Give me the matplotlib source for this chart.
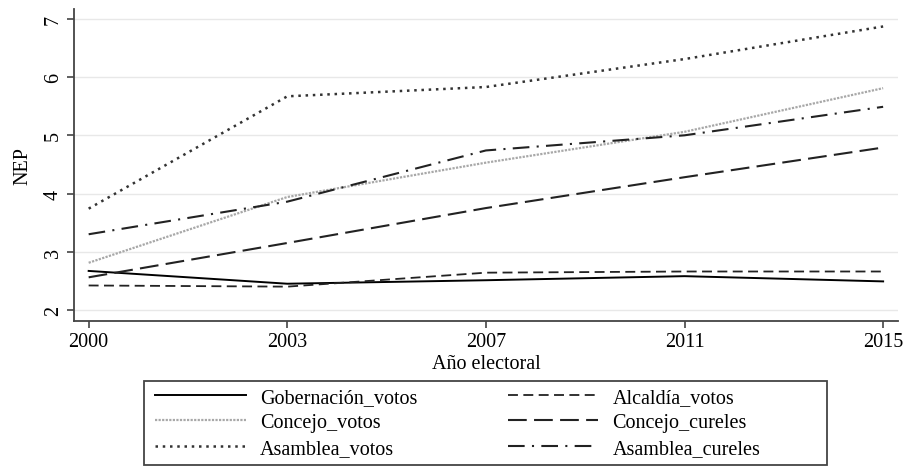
import numpy as np
import matplotlib.pyplot as plt
from matplotlib.patches import Rectangle

plt.rcParams['font.family'] = ['Liberation Serif', 'DejaVu Serif']

years = ["2000", "2003", "2007", "2011", "2015"]
gob_votos = [2.67, 2.45, 2.51, 2.58, 2.49]
alc_votos = [2.42, 2.40, 2.64, 2.66, 2.66]
con_votos = [2.81, 3.94, 4.53, 5.06, 5.81]
con_cureles = [2.56, 3.15, 3.75, 4.28, 4.79]
asa_votos = [3.74, 5.67, 5.83, 6.31, 6.87]
asa_cureles = [3.30, 3.86, 4.74, 5.00, 5.49]

x = np.arange(len(years))
fs = 14.5

fig = plt.figure(figsize=(9.22, 4.77), dpi=100)
ax = fig.add_axes([0.080, 0.325, 0.894, 0.654])

h1, = ax.plot(x, gob_votos, color="black", lw=1.4, ls="-")
h2, = ax.plot(x, alc_votos, color="#222222", lw=1.3, ls=(0, (5.5, 3)))
h3, = ax.plot(x, con_votos, color="#a8a8a8", lw=1.6, ls=(0, (1, 0.6)))
h4, = ax.plot(x, con_cureles, color="#222222", lw=1.5, ls=(0, (9, 3.5)))
h5, = ax.plot(x, asa_votos, color="#333333", lw=1.8, ls=(0, (1, 1.9)))
h6, = ax.plot(x, asa_cureles, color="#222222", lw=1.5, ls=(0, (8, 3.5, 1, 3.5)))

ax.set_xlim(-0.075, 4.075)
ax.set_ylim(1.81, 7.17)
ax.set_xticks(x)
ax.set_xticklabels(years, fontsize=fs)
ax.set_yticks([2, 3, 4, 5, 6, 7])
ax.set_yticklabels(["2", "3", "4", "5", "6", "7"], fontsize=fs, rotation=90, va="center")
ax.grid(axis="y", color="#e8e8e8", lw=1)
ax.set_axisbelow(True)
for s in ["top", "right"]:
    ax.spines[s].set_visible(False)
for s in ["left", "bottom"]:
    ax.spines[s].set_color("#444444")
    ax.spines[s].set_linewidth(1.3)
ax.tick_params(direction="out", length=5, color="#444444", width=1.2, pad=3)
ax.set_xlabel("Año electoral", fontsize=fs, labelpad=2)
ax.set_ylabel("NEP", fontsize=fs, labelpad=8)

# legend box (Stata style, centred under the plot region)
fig.patches.append(Rectangle((144 / 922, 1 - 466 / 477), 683 / 922, 84 / 477,
                             transform=fig.transFigure, fill=False,
                             edgecolor="#444444", lw=1.3))

handles = [h1, h3, h5, h2, h4, h6]
labels = ["Gobernación_votos", "Concejo_votos", "Asamblea_votos",
          "Alcaldía_votos", "Concejo_cureles", "Asamblea_cureles"]
leg = fig.legend(handles, labels, ncol=2, loc="upper left",
                 bbox_to_anchor=(155 / 922, 1 - 389 / 477), fontsize=fs,
                 handlelength=4.5, columnspacing=4.5, labelspacing=0.31,
                 handletextpad=0.7, borderpad=0, borderaxespad=0,
                 frameon=False)

fig.savefig("out.png", dpi=100)
